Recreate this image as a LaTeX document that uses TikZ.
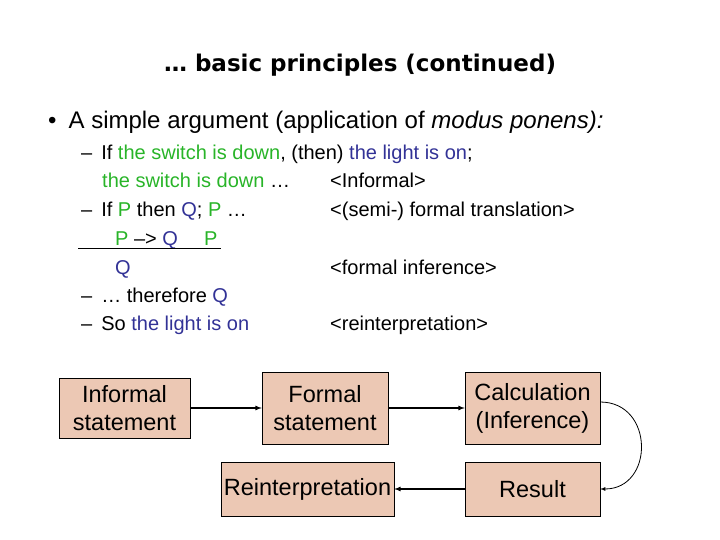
\documentclass[tikz,border=0pt]{standalone}
\usepackage{fontspec}
\setmainfont{Liberation Sans}
\newfontfamily\titlefont{DejaVu Sans}
\begin{document}
\definecolor{grn}{RGB}{40,180,40}
\definecolor{blu}{RGB}{50,50,150}
\definecolor{boxf}{RGB}{236,200,180}
\begin{tikzpicture}[x=1pt,y=-1pt,
  txt/.style={anchor=base west,inner sep=0pt,font=\fontsize{20}{24}\selectfont},
  box/.style={draw,fill=boxf,align=center,font=\fontsize{23.5}{28}\selectfont,inner sep=0pt},
  arr/.style={->,>=latex,line width=1.2pt}]
\useasboundingbox (0,0) rectangle (720,540);
\node[anchor=base,inner sep=0pt,font=\titlefont\bfseries\fontsize{23}{26}\selectfont] (title) at (360,72) {… basic principles (continued)};
\node[txt,font=\fontsize{24}{28}\selectfont] (b) at (48,129) {•\hspace{12pt}A simple argument (application of \textit{modus ponens):}};
\node[txt] (l1) at (81,160) {–\hspace{9pt}If \textcolor{grn}{the switch is down}, (then) \textcolor{blu}{the light is on};};
\node[txt] (l2) at (102,188) {\textcolor{grn}{the switch is down} …};
\node[txt] (r2) at (330,188) {<Informal>};
\node[txt] (l3) at (81,216) {–\hspace{9pt}If \textcolor{grn}{P} then \textcolor{blu}{Q}; \textcolor{grn}{P} …};
\node[txt] (r3) at (330,216) {<(semi-) formal translation>};
\node[txt] (l4) at (115,245) {\textcolor{grn}{P} –> \textcolor{blu}{Q}\hspace{26pt}\textcolor{grn}{P}};
\coordinate (u1) at (78,248); \coordinate (u2) at (221,248);
\draw[line width=0.9pt] (u1) -- (u2);
\node[txt] (l5) at (115,274) {\textcolor{blu}{Q}};
\node[txt] (r5) at (330,274) {<formal inference>};
\node[txt] (l6) at (81,302) {–\hspace{9pt}… therefore \textcolor{blu}{Q}};
\node[txt] (l7) at (81,330) {–\hspace{9pt}So \textcolor{blu}{the light is on}};
\node[txt] (r7) at (330,330) {<reinterpretation>};
\node[box,minimum width=131pt,minimum height=60pt] (inf) at (124.5,408) {Informal\\statement};
\node[box,minimum width=126pt,minimum height=72pt] (for) at (325,408) {Formal\\statement};
\node[box,minimum width=135pt,minimum height=72pt] (cal) at (532.5,408) {Calculation\\(Inference)};
\node[box,minimum width=173pt,minimum height=54pt] (rei) at (307.5,489) {Reinterpretation};
\node[box,minimum width=135pt,minimum height=54pt] (res) at (532.5,489) {Result};
\draw[arr] (inf) -- (for);
\draw[arr] (for) -- (cal);
\draw[arr,line width=0.8pt] (cal.east) ++(0,-6) coordinate (c1) to[out=0,in=0,looseness=1.6] (res.east);
\draw[arr] (res) -- (rei);
\end{tikzpicture}
\end{document}
